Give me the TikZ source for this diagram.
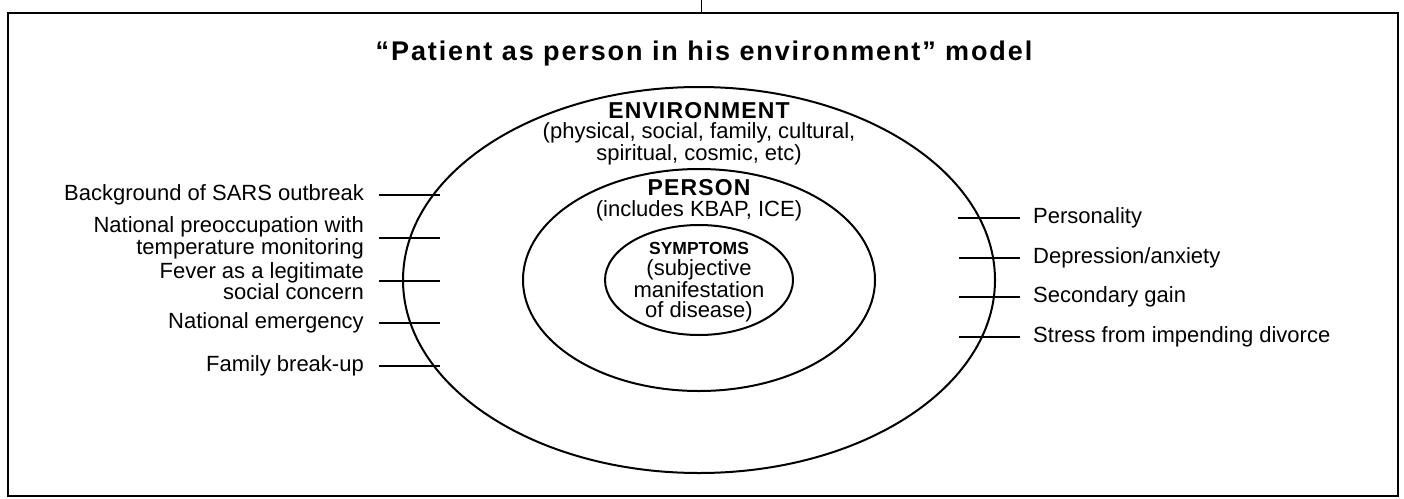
\documentclass[tikz,border=0pt]{standalone}
\usepackage{fontspec}
\setmainfont{Liberation Sans}
\usetikzlibrary{positioning}

\tikzset{
  lab/.style={inner sep=0pt, font=\fontsize{22}{19.5}\selectfont},
  head/.style={inner sep=0pt, anchor=base,
    font=\fontsize{23}{23}\selectfont\bfseries\addfontfeature{LetterSpace=5}},
  tick/.style={line width=2pt},
  ring/.style={line width=2pt},
}

\begin{document}
\begin{tikzpicture}[x=1pt,y=-1pt]
    \useasboundingbox (0,0) rectangle (1404,498);
    %% 外框
    \node[draw, line width=2.4pt, inner sep=0pt,
      minimum width=1390pt, minimum height=483pt] (frame) at (703,254.5) {};
    \coordinate (top) at (701,0);
    \draw[line width=1pt] (top) -- (top |- frame.north);
    %% 标题
    \node[head, font=\fontsize{27}{27}\selectfont\bfseries\addfontfeature{LetterSpace=7}]
      (t0) at (704,60) {“Patient as person in his environment” model};
    %% 椭圆
    \coordinate (c0) at (699,280);
    \draw[ring] (c0) ellipse [x radius=296, y radius=193];
    \draw[ring] (c0) ellipse [x radius=176, y radius=111];
    \draw[ring] (c0) ellipse [x radius=94, y radius=55];
    %% 椭圆内文字 (多行节点的 base 在最后一行)
    \node[head] (env) at (699,118) {ENVIRONMENT};
    \node[lab, align=center, anchor=base] (envtxt) at (699,160)
      {(physical, social, family, cultural,\\spiritual, cosmic, etc)};
    \node[head] (per) at (699,195) {PERSON};
    \node[lab, anchor=base] (pertxt) at (699,216) {(includes KBAP, ICE)};
    \node[head, font=\fontsize{17.5}{17.5}\selectfont\bfseries] (sym) at (699,254) {SYMPTOMS};
    \node[lab, align=center, anchor=base] (symtxt) at (699,317)
      {(subjective\\manifestation\\of disease)};
    %% 左侧
    \coordinate (la1) at (379,195); \coordinate (lb1) at (440,195);
    \coordinate (la2) at (379,238); \coordinate (lb2) at (440,238);
    \coordinate (la3) at (379,281); \coordinate (lb3) at (440,281);
    \coordinate (la4) at (379,323); \coordinate (lb4) at (440,323);
    \coordinate (la5) at (379,366); \coordinate (lb5) at (440,366);
    \draw[tick] (la1) -- (lb1);
    \draw[tick] (la2) -- (lb2);
    \draw[tick] (la3) -- (lb3);
    \draw[tick] (la4) -- (lb4);
    \draw[tick] (la5) -- (lb5);
    \node[lab, align=right, left=15pt of la1] (l1) {Background of SARS outbreak};
    \node[lab, align=right, left=15pt of la2] (l2) {National preoccupation with\\temperature monitoring};
    \node[lab, align=right, left=15pt of la3] (l3) {Fever as a legitimate\\social concern};
    \node[lab, align=right, left=15pt of la4] (l4) {National emergency};
    \node[lab, align=right, left=15pt of la5] (l5) {Family break-up};
    %% 右侧
    \coordinate (ra1) at (958,218); \coordinate (rb1) at (1020,218);
    \coordinate (ra2) at (959,258); \coordinate (rb2) at (1020,258);
    \coordinate (ra3) at (959,297); \coordinate (rb3) at (1020,297);
    \coordinate (ra4) at (959,337); \coordinate (rb4) at (1020,337);
    \draw[tick] (ra1) -- (rb1);
    \draw[tick] (ra2) -- (rb2);
    \draw[tick] (ra3) -- (rb3);
    \draw[tick] (ra4) -- (rb4);
    \node[lab, right=13pt of rb1] (r1) {Personality};
    \node[lab, right=13pt of rb2] (r2) {Depression/anxiety};
    \node[lab, right=13pt of rb3] (r3) {Secondary gain};
    \node[lab, right=13pt of rb4] (r4) {Stress from impending divorce};
\end{tikzpicture}
\end{document}
